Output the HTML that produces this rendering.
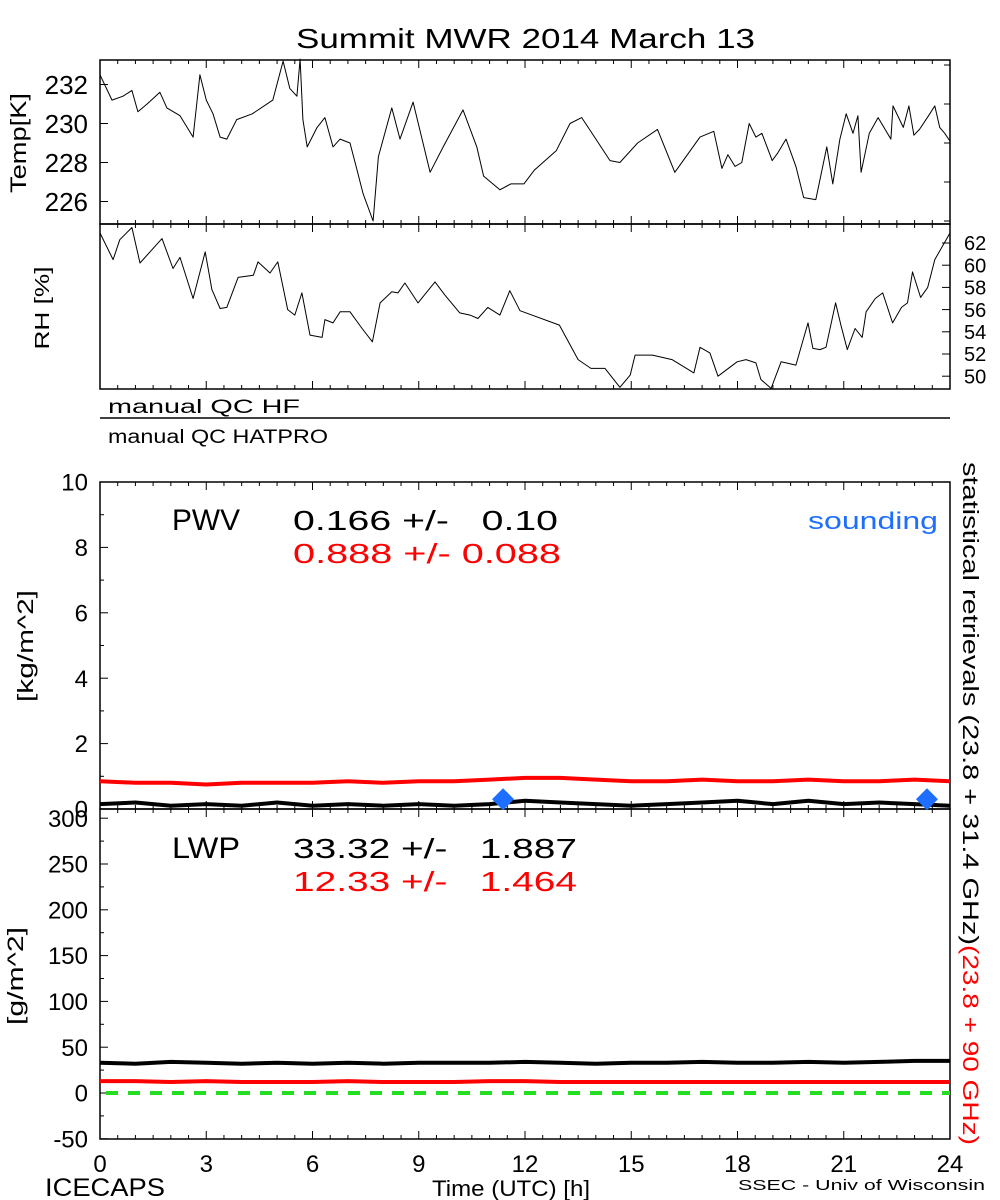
<!DOCTYPE html>
<html><head><meta charset="utf-8"><style>
html,body{margin:0;padding:0;background:#fff}
svg{display:block;font-family:"Liberation Sans",sans-serif}
</style></head><body>
<svg id="c" width="1000" height="1200" xmlns="http://www.w3.org/2000/svg">
<text x="296" y="48" font-size="28" textLength="459" lengthAdjust="spacingAndGlyphs">Summit MWR 2014 March 13</text>
<text x="108" y="413" font-size="19" textLength="192" lengthAdjust="spacingAndGlyphs">manual QC HF</text>
<line x1="100" y1="418" x2="950" y2="418" stroke="#000" stroke-width="1.5"/>
<text x="108" y="443" font-size="19" textLength="220" lengthAdjust="spacingAndGlyphs">manual QC HATPRO</text>
<text x="172" y="530" font-size="30" textLength="68" lengthAdjust="spacingAndGlyphs">PWV</text>
<text x="293" y="530" font-size="28" textLength="265" lengthAdjust="spacingAndGlyphs" xml:space="preserve">0.166 +/-   0.10</text>
<text x="293" y="563" font-size="28" fill="#ff0000" textLength="268" lengthAdjust="spacingAndGlyphs">0.888 +/- 0.088</text>
<text x="808" y="529" font-size="24" fill="#1e6fff" textLength="130" lengthAdjust="spacingAndGlyphs">sounding</text>
<text x="172" y="858" font-size="30" textLength="68" lengthAdjust="spacingAndGlyphs">LWP</text>
<text x="293" y="858" font-size="28" textLength="284" lengthAdjust="spacingAndGlyphs" xml:space="preserve">33.32 +/-   1.887</text>
<text x="293" y="891" font-size="28" fill="#ff0000" textLength="284" lengthAdjust="spacingAndGlyphs" xml:space="preserve">12.33 +/-   1.464</text>
<text transform="translate(963,462) rotate(90)" font-size="22"><tspan textLength="483" lengthAdjust="spacingAndGlyphs">statistical retrievals (23.8 + 31.4 GHz)</tspan><tspan fill="#ff0000" textLength="200" lengthAdjust="spacingAndGlyphs">(23.8 + 90 GHz)</tspan></text>
<text x="26" y="143" font-size="22" transform="rotate(-90 26 143)" text-anchor="middle" textLength="100" lengthAdjust="spacingAndGlyphs">Temp[K]</text>
<text x="49" y="308" font-size="20" transform="rotate(-90 49 308)" text-anchor="middle" textLength="83" lengthAdjust="spacingAndGlyphs">RH [%]</text>
<text x="33" y="646" font-size="22" transform="rotate(-90 33 646)" text-anchor="middle" textLength="112" lengthAdjust="spacingAndGlyphs">[kg/m^2]</text>
<text x="23" y="976" font-size="22" transform="rotate(-90 23 976)" text-anchor="middle" textLength="98" lengthAdjust="spacingAndGlyphs">[g/m^2]</text>
<text x="45" y="1196" font-size="25" textLength="120" lengthAdjust="spacingAndGlyphs">ICECAPS</text>
<text x="432" y="1196" font-size="22" textLength="158" lengthAdjust="spacingAndGlyphs">Time (UTC) [h]</text>
<text x="738" y="1190" font-size="15" textLength="247" lengthAdjust="spacingAndGlyphs">SSEC - Univ of Wisconsin</text>
</svg>
<script>
const tempHours=[0,0.34,0.65,0.9,1.07,1.33,1.69,1.89,2.26,2.63,2.82,3.0,3.19,3.39,3.58,3.86,4.3,4.88,5.17,5.36,5.56,5.65,5.73,5.85,6.13,6.35,6.58,6.78,7.06,7.26,7.43,7.71,7.86,8.24,8.47,8.84,9.32,9.69,10.25,10.64,10.83,11.29,11.6,11.97,12.26,12.88,13.27,13.6,13.82,14.4,14.68,15.18,15.74,16.23,16.94,17.33,17.56,17.73,17.93,18.12,18.33,18.52,18.69,18.98,19.14,19.37,19.65,19.87,20.21,20.52,20.69,20.89,21.07,21.26,21.4,21.49,21.72,21.97,22.33,22.39,22.68,22.84,22.98,23.14,23.43,23.57,23.71,23.85,24];
const tempValues=[232.5,231.2,231.4,231.7,230.6,231.0,231.6,230.8,230.4,229.3,232.5,231.2,230.5,229.3,229.2,230.2,230.5,231.2,233.2,231.8,231.4,233.3,230.2,228.8,229.8,230.3,228.8,229.2,229.0,227.6,226.4,225.0,228.3,230.8,229.2,231.1,227.5,228.8,230.7,228.8,227.3,226.6,226.9,226.9,227.6,228.6,230.0,230.3,229.7,228.1,228.0,229.0,229.7,227.5,229.3,229.6,227.7,228.4,227.8,228.0,230.0,229.3,229.5,228.1,228.5,229.2,227.8,226.2,226.1,228.8,226.9,229.2,230.5,229.5,230.4,227.5,229.5,230.3,229.2,230.9,229.8,230.9,229.4,229.7,230.5,230.9,229.8,229.5,229.1];
const rhHours=[0,0.37,0.56,0.9,1.13,1.75,2.06,2.26,2.63,2.97,3.16,3.39,3.58,3.9,4.33,4.46,4.8,5.02,5.3,5.5,5.7,5.93,6.27,6.35,6.58,6.78,7.06,7.4,7.69,7.91,8.24,8.41,8.61,8.98,9.46,9.74,10.16,10.45,10.67,10.95,11.29,11.57,11.86,12.97,13.5,13.86,14.26,14.68,14.97,15.11,15.6,16.15,16.77,16.94,17.22,17.45,17.99,18.24,18.52,18.66,18.95,19.23,19.65,19.99,20.13,20.33,20.5,20.77,20.92,21.1,21.32,21.52,21.63,21.89,22.1,22.38,22.63,22.8,22.94,23.17,23.37,23.57,24];
const rhValues=[62.9,60.5,62.3,63.4,60.2,62.4,59.7,60.7,57.0,61.2,57.8,56.1,56.2,58.9,59.1,60.3,59.3,60.3,56.0,55.5,57.5,53.7,53.5,55.1,54.8,55.8,55.8,54.3,53.1,56.6,57.6,57.5,58.4,56.6,58.5,57.3,55.7,55.5,55.2,56.2,55.5,57.7,55.9,54.6,51.5,50.7,50.7,49.0,50.1,51.9,51.9,51.5,50.3,52.6,52.1,50.0,51.3,51.5,51.2,49.7,48.9,51.3,51.0,54.8,52.5,52.4,52.6,56.6,54.6,52.4,54.3,53.5,55.8,57.0,57.5,54.8,56.2,56.6,59.4,57.1,58.0,60.5,62.9];
const pwvHours=[0,1,2,3,4,5,6,7,8,9,10,11,12,13,14,15,16,17,18,19,20,21,22,23,24];
const pwvBlack=[0.15,0.2,0.1,0.15,0.1,0.2,0.1,0.15,0.1,0.15,0.1,0.15,0.25,0.2,0.15,0.1,0.15,0.2,0.25,0.15,0.25,0.15,0.2,0.15,0.1];
const pwvRed=[0.85,0.8,0.8,0.75,0.8,0.8,0.8,0.85,0.8,0.85,0.85,0.9,0.95,0.95,0.9,0.85,0.85,0.9,0.85,0.85,0.9,0.85,0.85,0.9,0.85];
const soundHours=[11.38,23.35];
const soundValues=[0.3,0.3];
const lwpBlack=[33,32,34,33,32,33,32,33,32,33,33,33,34,33,32,33,33,34,33,33,34,33,34,35,35];
const lwpRed=[13,13,12,13,12,12,12,13,12,12,12,13,13,12,12,12,12,12,12,12,12,12,12,12,12];
const xTicks=[0,3,6,9,12,15,18,21,24];
const tempTicks=[226,228,230,232];
const rhTicks=[50,52,54,56,58,60,62];
const pwvTicks=[0,2,4,6,8,10];
const lwpTicks=[-50,0,50,100,150,200,250,300];

const NS="http://www.w3.org/2000/svg";
const svg=document.getElementById('c');
const X0=100,X1=950;
const xs=h=>X0+h*(X1-X0)/24;
const yT=v=>84.5+(232-v)*19.5;
const yR=v=>243+(62-v)*11.1;
const yP=v=>809-v*32.7;
const yL=v=>1093-v*0.916;
function mk(tag,attrs){const e=document.createElementNS(NS,tag);for(const k in attrs)e.setAttribute(k,attrs[k]);svg.appendChild(e);return e;}
function line(hs,vs,yf,color,w,name){
  const pts=hs.map((h,i)=>xs(h).toFixed(1)+','+yf(vs[i]).toFixed(1)).join(' ');
  const p=mk('polyline',{points:pts,fill:'none',stroke:color,'stroke-width':w,'stroke-linejoin':'round'});
  
  
}
function panel(top,bot,name){
  const r=mk('rect',{x:X0,y:top,width:X1-X0,height:bot-top,fill:'none',stroke:'#000','stroke-width':1.5});
  
  
  for(let h=0;h<=24;h+=0.5){
    const L=(h%3===0)?8:4;
    const x=xs(h);
    mk('line',{x1:x,y1:top,x2:x,y2:top+L,stroke:'#000','stroke-width':1});
    mk('line',{x1:x,y1:bot,x2:x,y2:bot-L,stroke:'#000','stroke-width':1});
  }
}
function yticks(ticks,yf,side,fs,name){
  ticks.forEach(v=>{
    const y=yf(v);
    const xa=side==='left'?X0:X1;
    const d=side==='left'?8:-8;
    mk('line',{x1:xa,y1:y,x2:xa+d,y2:y,stroke:'#000','stroke-width':1});
    const t=mk('text',{x:side==='left'?X0-12:X1+14,y:y+fs*0.36,'font-size':fs,'text-anchor':side==='left'?'end':'start'});
    t.textContent=v;
    
    
  });
}
panel(60,224,'temp-panel');
panel(224,389,'rh-panel');
panel(482,809,'pwv-panel');
panel(809,1139,'lwp-panel');
yticks(tempTicks,yT,'left',26,'temp');
yticks(rhTicks,yR,'right',20,'rh');
yticks(pwvTicks,yP,'left',24,'pwv');
yticks(lwpTicks,yL,'left',24,'lwp');
for(let v=1;v<10;v+=2){const y=yP(v);mk('line',{x1:X0,y1:y,x2:X0+4,y2:y,stroke:'#000'});}
for(let v=-25;v<300;v+=50){const y=yL(v);mk('line',{x1:X0,y1:y,x2:X0+4,y2:y,stroke:'#000'});}
for(let v=225;v<=233;v+=2){const y=yT(v);if(y>60&&y<224)mk('line',{x1:X1,y1:y,x2:X1-6,y2:y,stroke:'#000'});}
xTicks.forEach(h=>{
  const t=mk('text',{x:xs(h),y:1172,'font-size':24,'text-anchor':'middle'});
  t.textContent=h;
  
  
});
line(tempHours,tempValues,yT,'#000',1,'temp-line');
line(rhHours,rhValues,yR,'#000',1,'rh-line');
line(pwvHours,pwvRed,yP,'#ff0000',4,'pwv-red-line');
line(pwvHours,pwvBlack,yP,'#000',4,'pwv-black-line');
line(pwvHours,lwpBlack,yL,'#000',4,'lwp-black-line');
line(pwvHours,lwpRed,yL,'#ff0000',4,'lwp-red-line');
const g=mk('line',{x1:X0+6,y1:yL(0),x2:X1,y2:yL(0),stroke:'#22dd22','stroke-width':4,'stroke-dasharray':'12,10'});


soundHours.forEach((h,i)=>{
  const x=xs(h),y=yP(soundValues[i]);
  const d=mk('polygon',{points:`${x},${y-11} ${x+11},${y} ${x},${y+11} ${x-11},${y}`,fill:'#1e6fff'});
  
  
});
</script>
</body></html>
